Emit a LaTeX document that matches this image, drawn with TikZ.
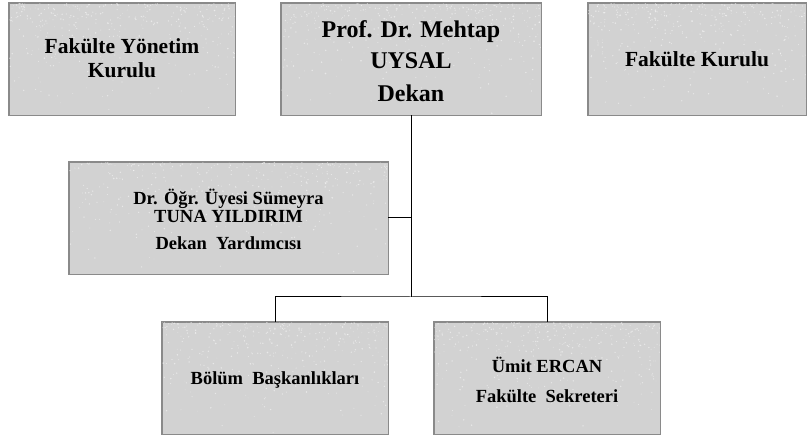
\documentclass[tikz,border=0pt]{standalone}
\usepackage{fontspec}
\setmainfont{Liberation Serif}
\usetikzlibrary{calc}
\definecolor{boxfill}{HTML}{D2D2D2}
\definecolor{boxline}{HTML}{8A8A8A}
\pgfmathsetseed{4242}
\newcommand{\speckle}[1]{%
  \foreach \i in {1,...,380}{%
    \pgfmathsetmacro{\ru}{rnd}\pgfmathsetmacro{\rv}{1-rnd*rnd}\pgfmathsetmacro{\rr}{0.35+0.5*rnd}%
    \fill[white, opacity=0.5] ($(#1.south west)!\ru!(#1.south east)$) ++(0,{\rv*112}) circle (\rr pt);
  }%
}
\tikzset{
  orgbox/.style={draw=boxline, line width=0.8pt, fill=boxfill, minimum height=112pt,
    inner sep=0pt},
  boxtext/.style={align=center, inner sep=0pt},
  conn/.style={draw=black, line width=1pt}
}
\begin{document}
\begin{tikzpicture}[x=1pt,y=1pt]
\useasboundingbox (0,0) rectangle (809,441);
% boxes
\node[orgbox, minimum width=226pt] (fyk) at (122,382) {};
\node[orgbox, minimum width=260pt] (dekan) at (411,382) {};
\node[orgbox, minimum width=218pt] (fk) at (697,382) {};
\node[orgbox, minimum width=319pt] (yard) at (228.5,223) {};
\node[orgbox, minimum width=226pt] (bolum) at (275,63) {};
\node[orgbox, minimum width=226pt] (sekr) at (547,63) {};
% texture
\begin{scope}
\clip (fyk.south west) rectangle (fyk.north east); \speckle{fyk}
\end{scope}
\begin{scope}
\clip (dekan.south west) rectangle (dekan.north east); \speckle{dekan}
\end{scope}
\begin{scope}
\clip (fk.south west) rectangle (fk.north east); \speckle{fk}
\end{scope}
\begin{scope}
\clip (yard.south west) rectangle (yard.north east); \speckle{yard}
\end{scope}
\begin{scope}
\clip (bolum.south west) rectangle (bolum.north east); \speckle{bolum}
\end{scope}
\begin{scope}
\clip (sekr.south west) rectangle (sekr.north east); \speckle{sekr}
\end{scope}
\foreach \b in {fyk,dekan,fk,yard,bolum,sekr}{\draw[draw=boxline, line width=0.8pt] (\b.south west) rectangle (\b.north east);}
% texts
\node[boxtext, font=\bfseries\fontsize{21.5}{24}\selectfont] (fykt) at (122,383) {Fakülte Yönetim\\Kurulu};
\node[boxtext, font=\bfseries\fontsize{24}{31}\selectfont] (dekant) at (411,380) {Prof. Dr. Mehtap\\UYSAL\\[2pt]Dekan};
\node[boxtext, font=\bfseries\fontsize{21.5}{24}\selectfont] (fkt) at (697,382) {Fakülte Kurulu};
\node[boxtext, font=\bfseries\fontsize{18.5}{18}\selectfont] (yardt) at (228.5,221.5) {Dr. Öğr. Üyesi Sümeyra\\TUNA YILDIRIM\\[9pt]Dekan\ \ Yardımcısı};
\node[boxtext, font=\bfseries\fontsize{18.5}{30}\selectfont] (bolumt) at (275,61) {Bölüm\ \ Başkanlıkları};
\node[boxtext, font=\bfseries\fontsize{18.5}{30}\selectfont] (sekrt) at (547,61) {Ümit ERCAN\\Fakülte\ \ Sekreteri};
% connectors
\coordinate (j) at (411,144);
\draw[conn] (dekan.south) -- (j);
\draw[conn] (yard.east) -- (yard.east -| dekan.south);
\draw[conn] (bolum.north) |- (j) -| (sekr.north);
\end{tikzpicture}
\end{document}
